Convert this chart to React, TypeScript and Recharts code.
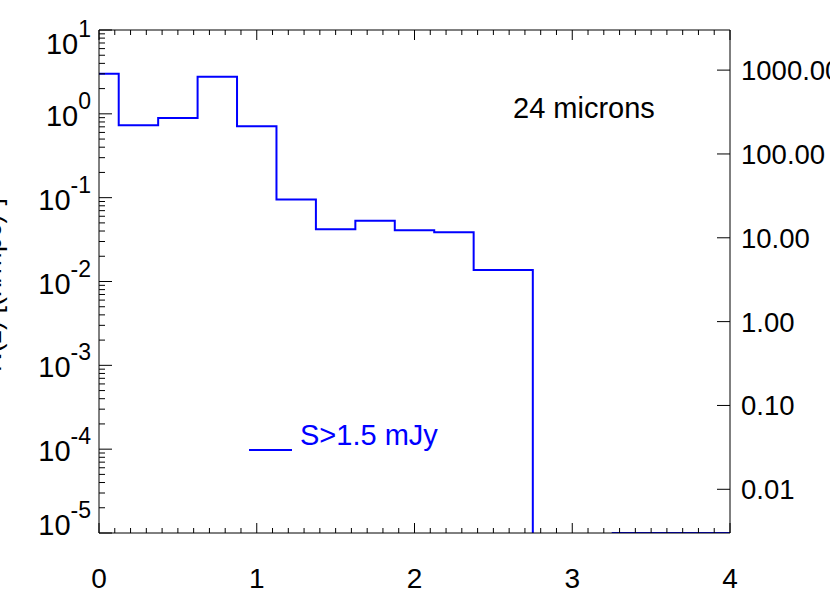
import { LineChart, Line, XAxis, YAxis, Legend } from "recharts";

// histogram: lower bin edge (z) and N(z); 0 = empty bin (sits on the axis floor), null = not drawn
const binEdges = [0, 0.125, 0.375, 0.625, 0.875, 1.125, 1.375, 1.625, 1.875, 2.125, 2.375, 2.75, 3.0, 3.25, 4.0];
const nz = [3.0, 0.73, 0.89, 2.77, 0.71, 0.095, 0.042, 0.053, 0.041, 0.0386, 0.0137, 0, null, 0, 0];

const xMajorTicks = [0, 1, 2, 3, 4];
const yMajorExponents = [-5, -4, -3, -2, -1, 0, 1];
const rightTicks = [0.01, 0.1, 1, 10, 100, 1000];

const seriesName = "S>1.5 mJy";
const bandLabel = "24 microns";
const yTitle = "N(z) [(h/Mpc)³]";

const Y_MIN = 1e-5;
const Y_MAX = 10;
const RIGHT_PER_LEFT = 301;

const FONT = "'Liberation Sans', Arial, Helvetica, sans-serif";
const BLUE = "#0000ff";
const PLOT = { left: 99, right: 730, top: 30, bottom: 533 };

const rows = binEdges.map((z, i) => ({
  z,
  n: nz[i] === null ? null : Math.max(nz[i] as number, Y_MIN),
}));

const xTicks: number[] = [];
for (let i = 0; i <= 40; i++) xTicks.push(i / 10);

const yTicks: number[] = [];
yMajorExponents.forEach((e) => {
  if (e === yMajorExponents[yMajorExponents.length - 1]) {
    yTicks.push(Math.pow(10, e));
    return;
  }
  for (let m = 1; m <= 9; m++) yTicks.push(Number((m * Math.pow(10, e)).toPrecision(3)));
});

const isDecade = (v: number) => Math.abs(Math.log10(v) - Math.round(Math.log10(v))) < 1e-9;

const XBottomTick = (props: any) => {
  const x = props.payload.coordinate;
  const major = xMajorTicks.includes(props.payload.value);
  return (
    <g>
      <line x1={x} x2={x} y1={PLOT.bottom} y2={PLOT.bottom - (major ? 10 : 5)} stroke="#000" />
      {major && (
        <text x={x} y={588} textAnchor="middle" fontSize={28} fontFamily={FONT} fill="#000">
          {props.payload.value}
        </text>
      )}
    </g>
  );
};

const XTopTick = (props: any) => {
  const x = props.payload.coordinate;
  const major = xMajorTicks.includes(props.payload.value);
  return <line x1={x} x2={x} y1={PLOT.top} y2={PLOT.top + (major ? 10 : 5)} stroke="#000" />;
};

const YLeftTick = (props: any) => {
  const y = props.payload.coordinate;
  const v = props.payload.value;
  const major = isDecade(v);
  const exp = Math.round(Math.log10(v));
  const base = Math.min(Math.max(y + 12, PLOT.top + 24), PLOT.bottom + 2);
  return (
    <g>
      <line x1={PLOT.left} x2={PLOT.left + (major ? 13 : 6)} y1={y} y2={y} stroke="#000" />
      {major && (
        <text x={91} y={base} textAnchor="end" fontSize={29} fontFamily={FONT} fill="#000">
          <tspan>10</tspan>
          <tspan dy={-17} fontSize={23}>{exp}</tspan>
        </text>
      )}
    </g>
  );
};

const YRightTick = (props: any) => {
  const y = props.payload.coordinate;
  return (
    <g>
      <line x1={PLOT.right} x2={PLOT.right - 13} y1={y} y2={y} stroke="#000" />
      <text x={741} y={y + 10} textAnchor="start" fontSize={27.5} fontFamily={FONT} fill="#000">
        {props.payload.value.toFixed(2)}
      </text>
    </g>
  );
};

const renderLegend = (props: any) => {
  const item = props.payload && props.payload[0];
  return (
    <svg width={220} height={40} style={{ display: "block" }}>
      <line x1={0} x2={43} y1={30} y2={30} stroke={BLUE} strokeWidth={2} />
      <text x={51} y={25} fontSize={29} fontFamily={FONT} fill={BLUE}>
        {item ? item.value : seriesName}
      </text>
    </svg>
  );
};

export default function App() {
  return (
    <div style={{ position: "fixed", left: 0, top: 0, width: 830, height: 593, background: "#fff" }}>
      <LineChart width={830} height={593} data={rows} margin={{ top: 0, right: 0, bottom: 0, left: 0 }}>
        <XAxis
          xAxisId="bottom"
          dataKey="z"
          type="number"
          domain={[0, 4]}
          ticks={xTicks}
          interval={0}
          allowDataOverflow
          height={60}
          tickLine={false}
          axisLine={{ stroke: "#000" }}
          tick={<XBottomTick />}
        />
        <XAxis
          xAxisId="top"
          orientation="top"
          dataKey="z"
          type="number"
          domain={[0, 4]}
          ticks={xTicks}
          interval={0}
          allowDataOverflow
          height={30}
          tickLine={false}
          axisLine={{ stroke: "#000" }}
          tick={<XTopTick />}
        />
        <YAxis
          yAxisId="left"
          type="number"
          scale="log"
          domain={[Y_MIN, Y_MAX]}
          ticks={yTicks}
          interval={0}
          allowDataOverflow
          width={99}
          tickLine={false}
          axisLine={{ stroke: "#000" }}
          tick={<YLeftTick />}
        />
        <YAxis
          yAxisId="right"
          orientation="right"
          type="number"
          scale="log"
          domain={[Y_MIN * RIGHT_PER_LEFT, Y_MAX * RIGHT_PER_LEFT]}
          ticks={rightTicks}
          interval={0}
          allowDataOverflow
          width={100}
          tickLine={false}
          axisLine={{ stroke: "#000" }}
          tick={<YRightTick />}
        />
        <Legend
          layout="vertical"
          align="center"
          verticalAlign="middle"
          wrapperStyle={{ left: 249, top: 420, width: 220 }}
          content={renderLegend}
        />
        <Line
          xAxisId="bottom"
          yAxisId="left"
          name={seriesName}
          dataKey="n"
          type="stepAfter"
          stroke={BLUE}
          strokeWidth={2}
          dot={false}
          activeDot={false}
          connectNulls={false}
          isAnimationActive={false}
        />
      </LineChart>
      <svg
        width={830}
        height={593}
        style={{ position: "absolute", left: 0, top: 0, pointerEvents: "none" }}
      >
        <text x={513} y={118} fontSize={29} fontFamily={FONT} fill="#000">
          {bandLabel}
        </text>
        <text
          transform="translate(1, 285) rotate(-90)"
          textAnchor="middle"
          fontSize={27}
          fontFamily={FONT}
          fill="#000"
        >
          {yTitle}
        </text>
      </svg>
    </div>
  );
}
